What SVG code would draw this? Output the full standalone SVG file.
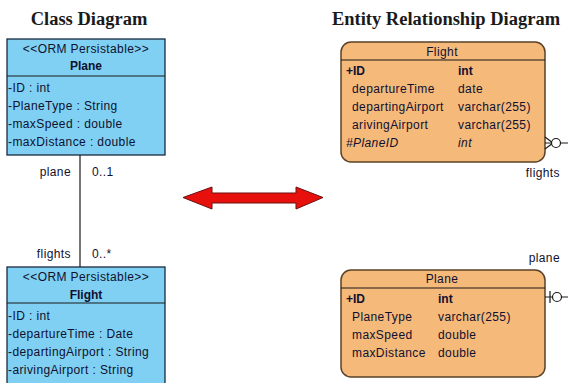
<svg xmlns="http://www.w3.org/2000/svg" width="568" height="383" viewBox="0 0 568 383">
<style>
.title{font-family:"Liberation Serif",serif;font-size:18.5px;font-weight:bold;fill:#1a1a1a}
.t{font-family:"Liberation Sans",Arial,sans-serif;font-size:12px;letter-spacing:0.4px;fill:#101030}
.b{font-weight:bold;letter-spacing:0}
.i{font-style:italic}
.cls{fill:#7fd0f2;stroke:#1a2a40;stroke-width:1.3}
.ent{fill:#f5b97a;stroke:#5a4128;stroke-width:1.5}
.ln{stroke:#1a1a1a;stroke-width:1.2;fill:none}
</style>
<rect width="568" height="383" fill="#ffffff"/>
<text class="title" x="89" y="25" text-anchor="middle">Class Diagram</text>
<text class="title" x="446" y="25" text-anchor="middle">Entity Relationship Diagram</text>

<g id="class-plane">
<rect class="cls" x="7" y="39" width="158" height="116"/>
<line class="ln" x1="7" y1="76" x2="165" y2="76"/>
<text class="t" x="86" y="53" text-anchor="middle">&lt;&lt;ORM Persistable&gt;&gt;</text>
<text class="t b" x="86" y="70" text-anchor="middle">Plane</text>
<text class="t" x="8" y="92">-ID : int</text>
<text class="t" x="8" y="110">-PlaneType : String</text>
<text class="t" x="8" y="128">-maxSpeed : double</text>
<text class="t" x="8" y="146">-maxDistance : double</text>
</g>

<g id="class-flight">
<rect class="cls" x="7" y="267" width="158" height="125"/>
<line class="ln" x1="7" y1="303" x2="165" y2="303"/>
<text class="t" x="86" y="281" text-anchor="middle">&lt;&lt;ORM Persistable&gt;&gt;</text>
<text class="t b" x="86" y="299" text-anchor="middle">Flight</text>
<text class="t" x="8" y="320">-ID : int</text>
<text class="t" x="8" y="338">-departureTime : Date</text>
<text class="t" x="8" y="356">-departingAirport : String</text>
<text class="t" x="8" y="374">-arivingAirport : String</text>
</g>

<g id="entity-flight">
<rect class="ent" x="341" y="42" width="204" height="120" rx="10"/>
<line class="ln" x1="341" y1="60" x2="545" y2="60" stroke="#5a4128"/>
<text class="t" x="442" y="56" text-anchor="middle">Flight</text>
<text class="t b" x="346" y="75">+ID</text>
<text class="t b" x="458" y="75">int</text>
<text class="t" x="352" y="93">departureTime</text>
<text class="t" x="458" y="93">date</text>
<text class="t" x="352" y="111">departingAirport</text>
<text class="t" x="458" y="111">varchar(255)</text>
<text class="t" x="352" y="129">arivingAirport</text>
<text class="t" x="458" y="129">varchar(255)</text>
<text class="t i" x="346" y="147">#PlaneID</text>
<text class="t i" x="458" y="147">int</text>
</g>

<g id="entity-plane">
<rect class="ent" x="341" y="270" width="204" height="107" rx="10"/>
<line class="ln" x1="341" y1="288" x2="545" y2="288" stroke="#5a4128"/>
<text class="t" x="442" y="283" text-anchor="middle">Plane</text>
<text class="t b" x="346" y="303">+ID</text>
<text class="t b" x="438" y="303">int</text>
<text class="t" x="352" y="321">PlaneType</text>
<text class="t" x="438" y="321">varchar(255)</text>
<text class="t" x="352" y="339">maxSpeed</text>
<text class="t" x="438" y="339">double</text>
<text class="t" x="352" y="357">maxDistance</text>
<text class="t" x="438" y="357">double</text>
</g>

<g id="connectors">
<line class="ln" x1="80" y1="155" x2="80" y2="267"/>
<text class="t" x="71" y="176" text-anchor="end">plane</text>
<text class="t" x="92" y="176">0..1</text>
<text class="t" x="71" y="258" text-anchor="end">flights</text>
<text class="t" x="92" y="258">0..*</text>

<path class="ln" d="M545 143 H568 M545 137 L553 143 L545 149"/>
<circle cx="556" cy="143" r="4.5" fill="#ffffff" stroke="#1a1a1a" stroke-width="1.2"/>
<text class="t" x="560" y="177" text-anchor="end">flights</text>

<path class="ln" d="M545 297 H568 M550 291 V303"/>
<circle cx="557" cy="297" r="4.5" fill="#ffffff" stroke="#1a1a1a" stroke-width="1.2"/>
<text class="t" x="560" y="262" text-anchor="end">plane</text>

<path d="M183 197.5 L212 187 L212 193 L296 193 L296 187 L323 197.5 L296 209 L296 203 L212 203 L212 209 Z" fill="#e8100c" stroke="#6a1010" stroke-width="1"/>
</g>
</svg>
